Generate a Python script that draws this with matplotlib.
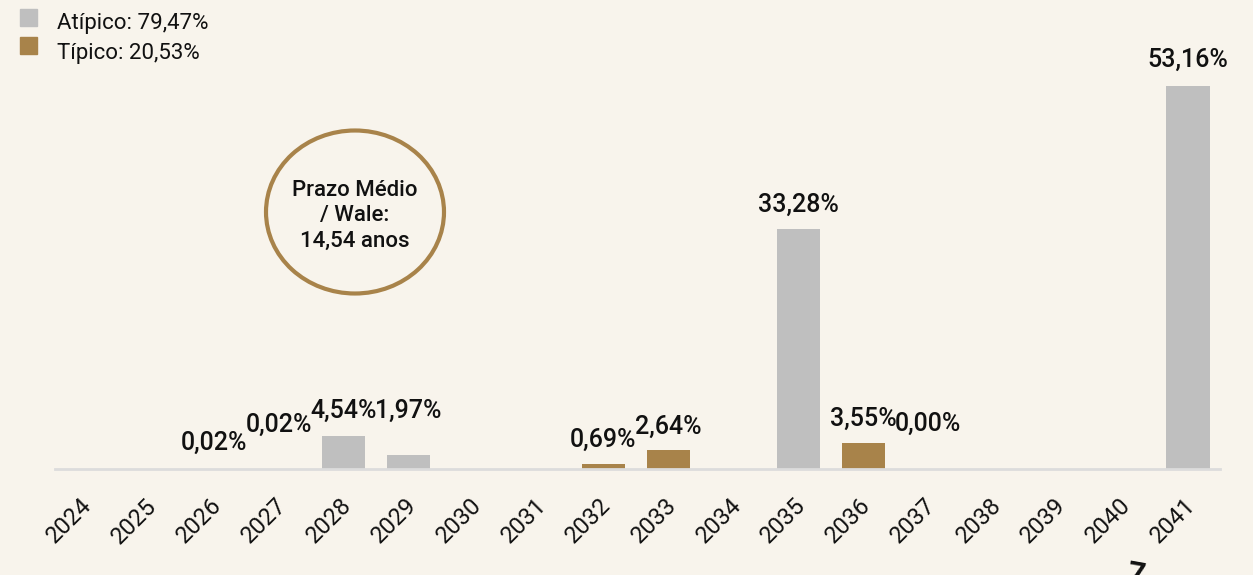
import matplotlib
matplotlib.use("Agg")
import matplotlib.pyplot as plt
from matplotlib.patches import Ellipse, Rectangle
from matplotlib.transforms import ScaledTranslation

# ---- data ----
years = [str(y) for y in range(2024, 2042)]
atipico = [0, 0, 0.02, 0.02, 4.54, 1.97, 0, 0, 0, 0, 0, 33.28, 0, 0.00, 0, 0, 0, 53.16]
tipico = [0, 0, 0, 0, 0, 0, 0, 0, 0.69, 2.64, 0, 0, 3.55, 0, 0, 0, 0, 0]
labels = ["", "", "0,02%", "0,02%", "4,54%", "1,97%", "", "", "0,69%", "2,64%", "",
          "33,28%", "3,55%", "0,00%", "", "", "", "53,16%"]
legend_labels = ["Atípico: 79,47%", "Típico: 20,53%"]
wale_text = "Prazo Médio\n/ Wale:\n14,54 anos"

# ---- style ----
BG = "#f8f4ec"
GRAY = "#bfbfbf"
GOLD = "#a8834a"
FONT = ["Roboto", "DejaVu Sans"]
plt.rcParams["font.family"] = FONT

fig = plt.figure(figsize=(12.53, 5.75), dpi=100, facecolor=BG)
ax = fig.add_axes([55 / 1253, (575 - 469) / 575, (1220 - 55) / 1253, 459 / 575])
ax.set_facecolor(BG)

x = list(range(len(years)))
ax.bar(x, atipico, width=0.67, color=GRAY, zorder=2)
ax.bar(x, tipico, width=0.67, color=GOLD, zorder=2)

# label layout (nudged to avoid overlaps as in the reference)
label_y = {2: 3.6, 3: 6.1, 4: 8.05, 5: 8.05, 8: 4.0, 9: 5.8, 11: 36.7, 12: 6.9, 13: 6.25, 17: 56.8}
for i, lab in enumerate(labels):
    if lab:
        ax.text(i, label_y[i], lab, ha="center", va="center", fontsize=18,
                fontweight="medium", color="#111111", zorder=3)

ax.set_xlim(-0.44, 17.49)
ax.set_ylim(0, 63.75)
ax.set_xticks(x)
ax.set_xticklabels(years, rotation=45, ha="right", rotation_mode="anchor",
                   fontsize=17, fontweight="normal", color="#111111")
ax.tick_params(axis="x", length=0, pad=18)
shift = ScaledTranslation(-4 / 100, 0, fig.dpi_scale_trans)
for t in ax.get_xticklabels():
    t.set_transform(t.get_transform() + shift)
ax.set_yticks([])
for s in ["top", "right", "left"]:
    ax.spines[s].set_visible(False)
ax.spines["bottom"].set_color("#dcdcdc")
ax.spines["bottom"].set_linewidth(2)

# legend
fig.patches.append(Rectangle((20 / 1253, 1 - 26 / 575), 17 / 1253, 17 / 575,
                             transform=fig.transFigure, color=GRAY))
fig.patches.append(Rectangle((20 / 1253, 1 - 54 / 575), 17 / 1253, 17 / 575,
                             transform=fig.transFigure, color=GOLD))
fig.text(57 / 1253, 1 - 24 / 575, legend_labels[0], fontsize=16, va="center",
         color="#111111")
fig.text(57 / 1253, 1 - 53 / 575, legend_labels[1], fontsize=16, va="center",
         color="#111111")

# WALE circle
fig.patches.append(Ellipse((355 / 1253, 1 - 212 / 575), 178 / 1253, 163 / 575,
                           transform=fig.transFigure, fill=False, edgecolor=GOLD,
                           linewidth=3))
fig.text(355 / 1253, 1 - 216 / 575, wale_text, ha="center", va="center",
         fontsize=16, fontweight="medium", linespacing=1.25, color="#111111")

# stray glyph at the bottom
fig.text(1135 / 1253, 1 - 575 / 575, "7", ha="center", va="center", fontsize=22,
         fontweight="bold", color="#111111", rotation=-10)

fig.savefig("out.png", dpi=100, facecolor=BG)
